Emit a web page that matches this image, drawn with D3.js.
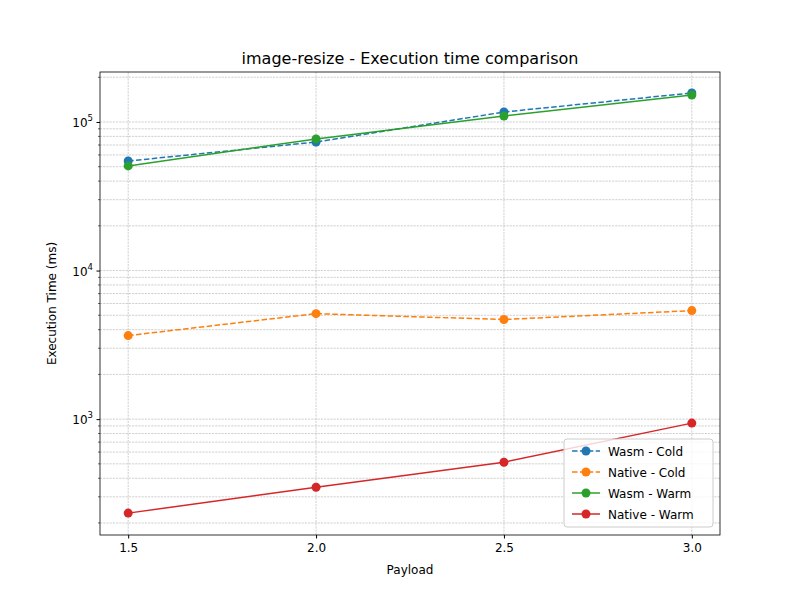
<!DOCTYPE html>
<html>
<head>
<meta charset="utf-8">
<script src="https://cdn.jsdelivr.net/npm/d3@7"></script>
<style>
  body { margin: 0; background: #fff; }
  text { font-family: "DejaVu Sans", sans-serif; }
</style>
</head>
<body>
<svg id="chart" width="800" height="600"></svg>
<script>
// data
var payloads = [1.5, 2.0, 2.5, 3.0];
var wasmCold = [54600, 73300, 116700, 156800];
var nativeCold = [3650, 5130, 4680, 5380];
var wasmWarm = [50600, 76900, 109700, 152000];
var nativeWarm = [233, 348, 513, 940];
var xTicks = [1.5, 2.0, 2.5, 3.0];

var series = [
  { label: 'Wasm - Cold', values: wasmCold, color: '#1f77b4', dash: '5.5,2.4' },
  { label: 'Native - Cold', values: nativeCold, color: '#ff7f0e', dash: '5.5,2.4' },
  { label: 'Wasm - Warm', values: wasmWarm, color: '#2ca02c', dash: null },
  { label: 'Native - Warm', values: nativeWarm, color: '#d62728', dash: null }
];

var margin = { left: 100, right: 80, top: 72, bottom: 65 };
var width = 800, height = 600;
var svg = d3.select('#chart');

var x = d3.scaleLinear().domain([1.425, 3.075]).range([margin.left, width - margin.right]);
var y = d3.scaleLog().domain([166, 217000]).range([height - margin.bottom, margin.top]);

var g = svg.append('g');

// grid: major + minor
var yGrid = [];
for (var e = 2; e <= 5; e++) {
  for (var m = 1; m <= 9; m++) {
    var v = m * Math.pow(10, e);
    if (v >= 166 && v <= 217000) yGrid.push(v);
  }
}
g.selectAll('.yg').data(yGrid).enter().append('line')
  .attr('x1', margin.left).attr('x2', width - margin.right)
  .attr('y1', d => y(d)).attr('y2', d => y(d))
  .attr('stroke', '#b0b0b0').attr('stroke-width', 0.6).attr('stroke-dasharray', '2.2,1');
g.selectAll('.xg').data(xTicks).enter().append('line')
  .attr('y1', margin.top).attr('y2', height - margin.bottom)
  .attr('x1', d => x(d)).attr('x2', d => x(d))
  .attr('stroke', '#b0b0b0').attr('stroke-width', 0.6).attr('stroke-dasharray', '2.2,1');

// axes
var xAxis = d3.axisBottom(x).tickValues(xTicks).tickFormat(d3.format('.1f')).tickSize(3.5).tickPadding(5);
svg.append('g').attr('transform', 'translate(0,' + (height - margin.bottom) + ')').call(xAxis)
  .call(a => a.selectAll('text').attr('font-size', 12).attr('fill', '#000'));

var yAxis = d3.axisLeft(y).tickValues([1e3, 1e4, 1e5]).tickFormat('').tickSize(3.5);
var ya = svg.append('g').attr('transform', 'translate(' + margin.left + ',0)').call(yAxis);
ya.selectAll('.yminor').data(yGrid.filter(d => [1e3, 1e4, 1e5].indexOf(d) < 0)).enter().append('line')
  .attr('x1', -2).attr('x2', 0).attr('y1', d => y(d)).attr('y2', d => y(d)).attr('stroke', '#000').attr('stroke-width', 0.6);
[3, 4, 5].forEach(function (p) {
  var t = ya.append('text').attr('x', -7).attr('y', y(Math.pow(10, p)) + 5)
    .attr('text-anchor', 'end').attr('font-size', 12).attr('fill', '#000');
  t.append('tspan').text('10');
  t.append('tspan').attr('dy', -6).attr('font-size', 8.5).text(p);
});
svg.selectAll('.domain').remove();
svg.append('rect').attr('x', margin.left).attr('y', margin.top)
  .attr('width', width - margin.left - margin.right).attr('height', height - margin.top - margin.bottom)
  .attr('fill', 'none').attr('stroke', '#000').attr('stroke-width', 0.8);

// lines
var line = d3.line().x((d, i) => x(payloads[i])).y(d => y(d));
series.forEach(function (s) {
  g.append('path').datum(s.values).attr('d', line).attr('fill', 'none')
    .attr('stroke', s.color).attr('stroke-width', 1.5).attr('stroke-dasharray', s.dash);
  g.selectAll(null).data(s.values).enter().append('circle')
    .attr('cx', (d, i) => x(payloads[i])).attr('cy', d => y(d)).attr('r', 4.5).attr('fill', s.color);
});

// labels
svg.append('text').attr('x', (margin.left + width - margin.right) / 2).attr('y', 64)
  .attr('text-anchor', 'middle').attr('font-size', 16).text('image-resize - Execution time comparison');
svg.append('text').attr('x', (margin.left + width - margin.right) / 2).attr('y', 574)
  .attr('text-anchor', 'middle').attr('font-size', 12).text('Payload');
svg.append('text').attr('transform', 'translate(56,' + ((margin.top + height - margin.bottom) / 2) + ') rotate(-90)')
  .attr('text-anchor', 'middle').attr('font-size', 12).text('Execution Time (ms)');

// legend
var lg = svg.append('g').attr('transform', 'translate(564,439)');
lg.append('rect').attr('width', 149).attr('height', 88).attr('rx', 3)
  .attr('fill', '#fff').attr('fill-opacity', 0.8).attr('stroke', '#ccc');
series.forEach(function (s, i) {
  var yy = 12 + i * 21;
  lg.append('line').attr('x1', 8).attr('x2', 36).attr('y1', yy).attr('y2', yy)
    .attr('stroke', s.color).attr('stroke-width', 1.5).attr('stroke-dasharray', s.dash);
  lg.append('circle').attr('cx', 22).attr('cy', yy).attr('r', 4.5).attr('fill', s.color);
  lg.append('text').attr('x', 44).attr('y', yy + 4.5).attr('font-size', 12).text(s.label);
});
</script>
</body>
</html>
